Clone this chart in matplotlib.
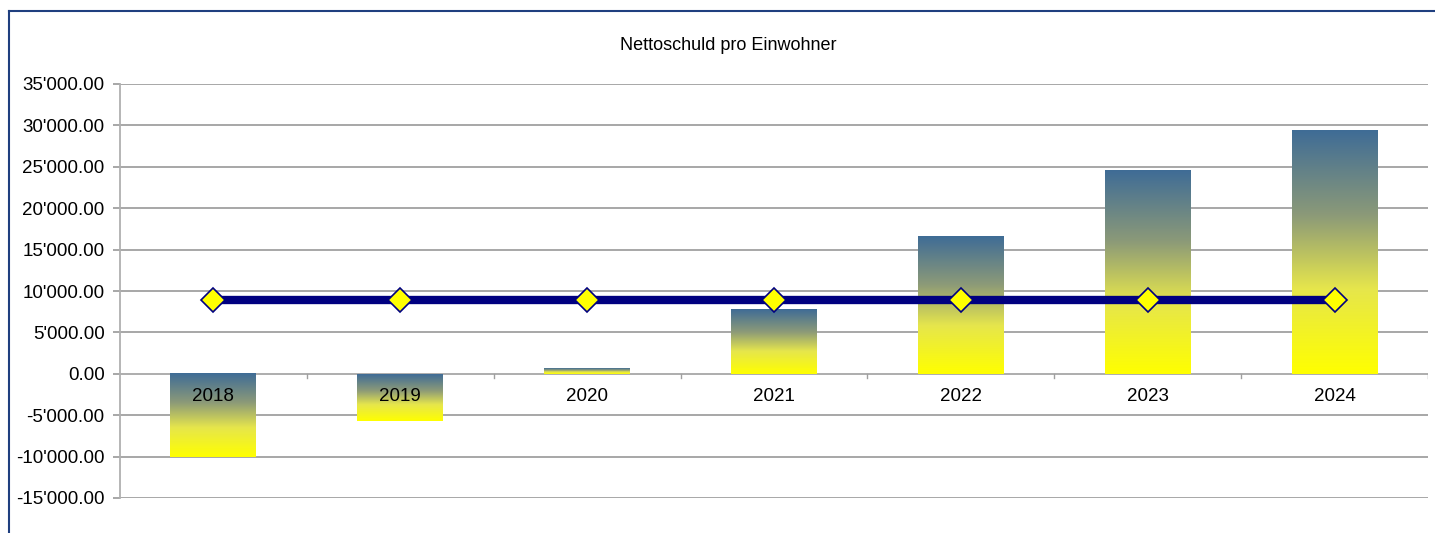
import numpy as np
import matplotlib.pyplot as plt
from matplotlib.colors import LinearSegmentedColormap
from matplotlib.lines import Line2D
from matplotlib.ticker import FuncFormatter

plt.rcParams['font.family'] = ['Liberation Sans', 'DejaVu Sans']

# Daten
jahre = ['2018', '2019', '2020', '2021', '2022', '2023', '2024']
nettoschuld = [-10100, -5650, 720, 7730, 16550, 24520, 29350]
referenz = [8950, 8950, 8950, 8950, 8950, 8950, 8950]

W, H = 1435, 533
fig = plt.figure(figsize=(W / 100, H / 100), dpi=100)
ax = fig.add_axes([120 / W, 35 / H, 1308 / W, 414 / H])

# Rahmen oben/links
fig.add_artist(Line2D([9 / W, 9 / W], [0, 1 - 11 / H], transform=fig.transFigure,
                      color='#1F3F7F', lw=1.5))
fig.add_artist(Line2D([9 / W, 1], [1 - 11 / H, 1 - 11 / H], transform=fig.transFigure,
                      color='#1F3F7F', lw=1.5))

cmap = LinearSegmentedColormap.from_list(
    'verlauf', [(0, '#3F6C96'), (0.35, '#8C9A78'), (0.65, '#E6E64C'), (1, '#FFFF00')])
grad = np.linspace(0, 1, 256).reshape(-1, 1)

x = np.arange(len(jahre))
bw = 0.46
for xi, v in zip(x, nettoschuld):
    top, bot = (v, 0) if v >= 0 else (0, v)
    ax.imshow(grad, cmap=cmap, extent=[xi - bw / 2, xi + bw / 2, bot, top],
              aspect='auto', origin='upper', zorder=2, interpolation='bilinear')

ax.plot(x, referenz, color='#000080', lw=6, zorder=3, solid_capstyle='butt')
ax.plot(x, referenz, ls='none', marker='D', ms=12, mfc='#FFFF00', mec='#000080',
        mew=1.2, zorder=4)

ax.set_xlim(-0.5, len(jahre) - 0.5)
ax.set_ylim(-15000, 35000)
ax.set_yticks(np.arange(-15000, 35001, 5000))
ax.yaxis.set_major_formatter(FuncFormatter(lambda v, p: f"{v:,.2f}".replace(',', "'")))
ax.grid(axis='y', color='#A0A0A0', lw=1.3, zorder=0)
ax.set_axisbelow(True)

for s in ['top', 'right', 'bottom']:
    ax.spines[s].set_visible(False)
ax.spines['left'].set_color('#B0B0B0')
ax.spines['left'].set_linewidth(1.3)
ax.tick_params(axis='y', length=5, color='#A0A0A0', width=1.3, labelsize=13.5, pad=6)
ax.set_xticks([])

# x-Achse bei 0 mit Teilstrichen
ax.axhline(0, color='#B0B0B0', lw=1.3, zorder=1)
for b in np.arange(0.5, len(jahre), 1.0):
    ax.plot([b, b], [0, -500], color='#A0A0A0', lw=1, zorder=1)
for xi, j in zip(x, jahre):
    ax.text(xi, -2700, j, ha='center', va='center', fontsize=13.5, zorder=5)

fig.text(728 / W, 1 - 46 / H, 'Nettoschuld pro Einwohner', ha='center', va='center',
         fontsize=13)

fig.savefig('out.png', dpi=100)
